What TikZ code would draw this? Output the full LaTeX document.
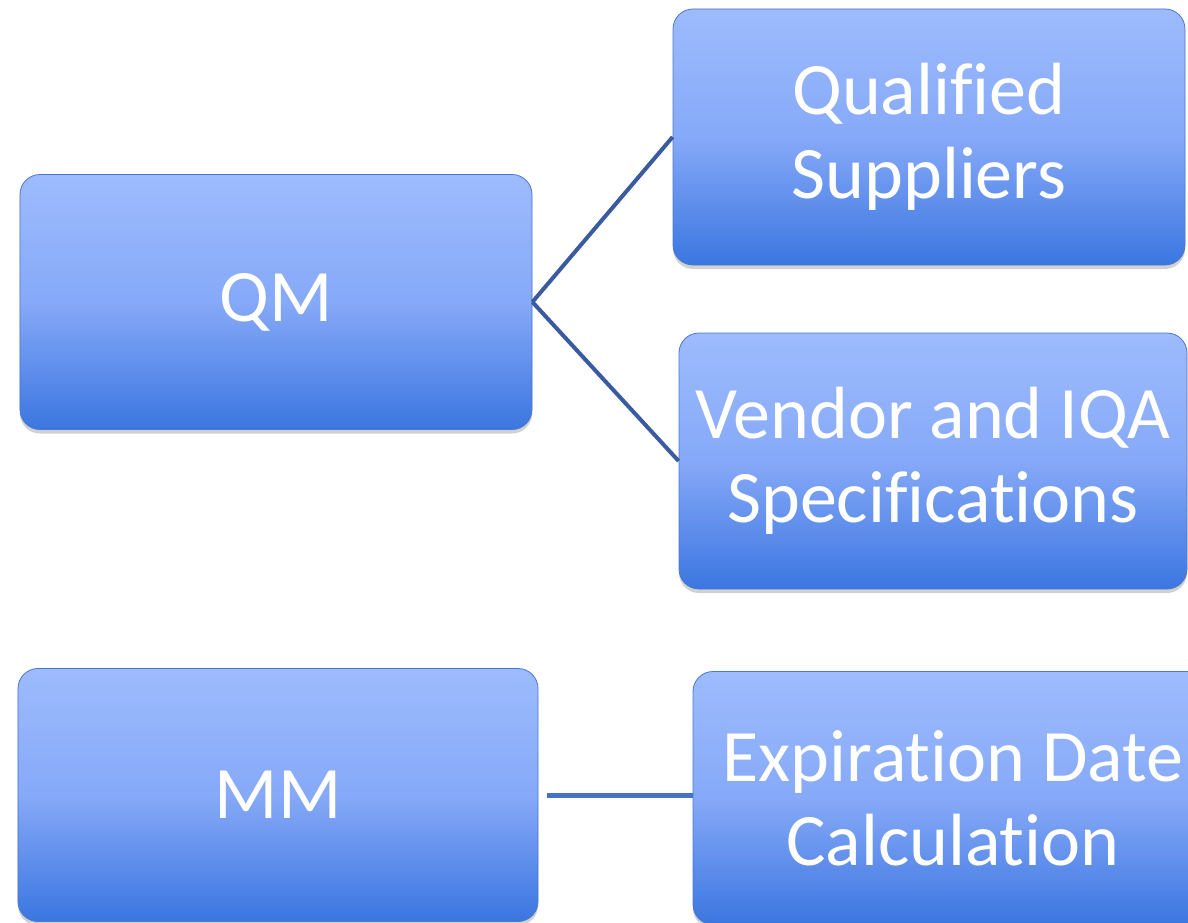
\documentclass[tikz,border=0pt]{standalone}
\usepackage{fontspec}
\setmainfont{Carlito}[Ligatures=NoCommon]
\usetikzlibrary{shadows}
\definecolor{boxtop}{HTML}{9DBBFD}
\definecolor{boxmid}{HTML}{86A9F8}
\definecolor{boxbot}{HTML}{3B76E0}
\definecolor{boxedge}{HTML}{4A78D0}
\definecolor{linkdark}{HTML}{3A5BA0}
\definecolor{linkmm}{HTML}{4472C4}
\begin{document}
\begin{tikzpicture}[x=1bp,y=-1bp,
  box/.style={rounded corners=20bp, draw=boxedge, line width=0.8bp,
    top color=boxtop, bottom color=boxbot, middle color=boxmid,
    inner sep=0pt, align=center, text=white,
    font=\fontsize{74bp}{84bp}\selectfont,
    drop shadow={shadow xshift=0bp, shadow yshift=-4bp, opacity=0.18, fill=black}},
  link/.style={draw=linkdark, line width=4bp},
  mmlink/.style={draw=linkmm, line width=5bp}]
\useasboundingbox (0,0) rectangle (1188,923);
\fill[white] (0,0) rectangle (1188,923);
\node[box, minimum width=512bp, minimum height=255bp] (qm) at (276,302) {QM};
\node[box, minimum width=512bp, minimum height=256bp] (qs) at (929,137) {Qualified\\Suppliers};
\node[box, minimum width=508bp, minimum height=256bp] (vs) at (933,461) {Vendor and IQA\\Specifications};
\node[box, minimum width=520bp, minimum height=253bp] (mm) at (278,795) {MM};
\node[box, minimum width=520bp, minimum height=253bp] (ed) at (953,798) {Expiration Date\\Calculation};
\draw[link] (qm.east) -- (qs.west);
\draw[link] (qm.east) -- (vs.west);
\draw[mmlink, shorten <=9bp] (mm.east) -- (mm.east -| ed.west);
\end{tikzpicture}
\end{document}
